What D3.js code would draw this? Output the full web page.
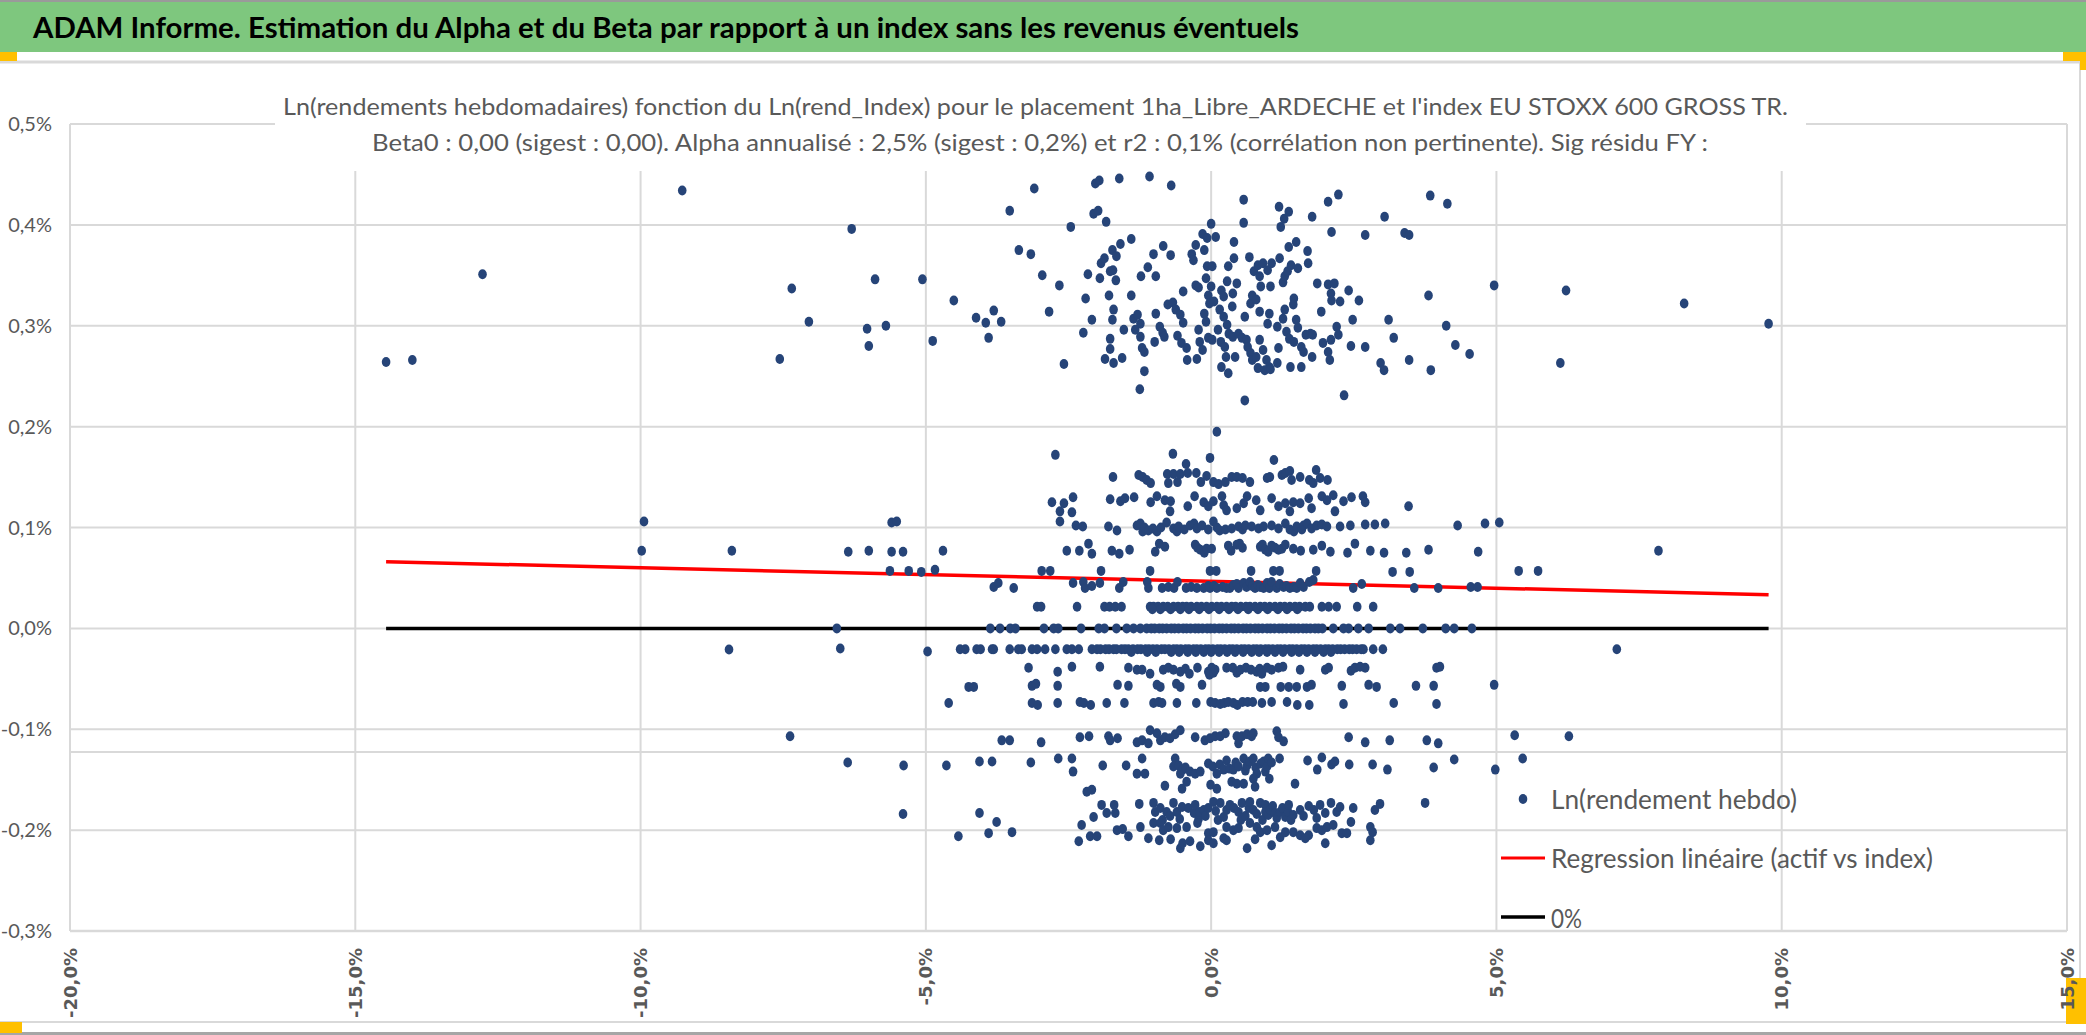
<!DOCTYPE html>
<html><head><meta charset="utf-8">
<script src="https://cdn.jsdelivr.net/npm/d3@7"></script>
<style>body{margin:0;background:#fff}svg{display:block}</style>
</head><body>
<svg id="c" width="2086" height="1035"></svg>
<script>
// ---------- texts ----------
const mainTitle = "ADAM Informe. Estimation du Alpha et du Beta par rapport à un index sans les revenus éventuels";
const chartTitle1 = "Ln(rendements hebdomadaires) fonction du Ln(rend_Index) pour le placement 1ha_Libre_ARDECHE et l'index EU STOXX 600 GROSS TR.";
const chartTitle2 = "Beta0 : 0,00 (sigest : 0,00). Alpha annualisé : 2,5% (sigest : 0,2%) et r2 : 0,1% (corrélation non pertinente). Sig résidu FY :";
const legendLabels = ["Ln(rendement hebdo)", "Regression linéaire (actif vs index)", "0%"];

// ---------- axes ----------
const xTicks = [-20, -15, -10, -5, 0, 5, 10, 15];
const xTickLabels = ["-20,0%", "-15,0%", "-10,0%", "-5,0%", "0,0%", "5,0%", "10,0%", "15,0%"];
const yTicks = [-0.3, -0.2, -0.1, 0, 0.1, 0.2, 0.3, 0.4, 0.5];
const yTickLabels = ["-0,3%", "-0,2%", "-0,1%", "0,0%", "0,1%", "0,2%", "0,3%", "0,4%", "0,5%"];

// ---------- regression (weekly %) ----------
const regAlpha = 0.0466;
const regBeta = -0.00135;

// ---------- scatter data: [index %, asset %] ----------
const upperSparse = [[-14.46,0.264],[-14.0,0.266],[-12.77,0.351],[-9.27,0.434],[-7.56,0.267],[-7.35,0.337],[-7.05,0.304],[-6.30,0.396],[-5.89,0.346],[-6.03,0.297],[-6.0,0.280],[-5.70,0.300],[6.22,0.335],[6.12,0.263],[8.29,0.322],[9.77,0.302]];

const upperCluster = [[-5.06,0.346],[-4.51,0.325],[-4.88,0.285],[-4.12,0.308],[-3.95,0.303],[-3.81,0.315],[-3.68,0.304],[-3.90,0.288],[-3.53,0.414],[-3.10,0.436],[-3.37,0.375],[-3.16,0.371],[-2.96,0.350],[-2.84,0.314],[-2.66,0.340],[-2.58,0.262],[-2.46,0.398],[-2.24,0.293],[-2.20,0.327],[-2.16,0.351],[-2.09,0.306],[-2.03,0.441],[-1.96,0.444],[-2.06,0.411],[-1.98,0.414],[-1.84,0.403],[-1.61,0.446],[-1.08,0.448],[-0.70,0.439],[-1.93,0.362],[-1.87,0.367],[-1.73,0.375],[-1.59,0.381],[-1.40,0.386],[-1.95,0.347],[-1.77,0.354],[-1.72,0.355],[-1.67,0.345],[-1.79,0.330],[-1.66,0.369],[-1.40,0.330],[-1.23,0.349],[-1.11,0.358],[-0.97,0.349],[-1.01,0.371],[-0.84,0.379],[-0.71,0.370],[-1.71,0.316],[-1.73,0.306],[-1.53,0.296],[-1.77,0.287],[-1.77,0.277],[-1.86,0.267],[-1.71,0.263],[-1.56,0.268],[-1.25,0.237],[-1.17,0.255],[-1.36,0.307],[-1.29,0.311],[-1.24,0.302],[-1.33,0.296],[-1.24,0.289],[-1.21,0.278],[-1.17,0.274],[-0.99,0.284],[-0.97,0.312],[-0.90,0.299],[-0.85,0.293],[-0.82,0.289],[-0.76,0.321],[-0.67,0.323],[-0.62,0.316],[-0.54,0.311],[-0.49,0.303],[-0.59,0.290],[-0.52,0.283],[-0.43,0.278],[-0.42,0.266],[-0.25,0.267],[-0.49,0.334],[-0.34,0.371],[-0.31,0.365],[-0.27,0.380],[-0.27,0.340],[-0.22,0.338],[-0.15,0.391],[-0.12,0.375],[-0.07,0.387],[0.00,0.401],[0.08,0.388],[-0.07,0.359],[0.02,0.359],[-0.09,0.347],[-0.05,0.330],[-0.03,0.322],[0.05,0.324],[0.00,0.339],[-0.12,0.312],[-0.09,0.304],[-0.22,0.296],[-0.20,0.284],[-0.15,0.276],[-0.05,0.288],[0.02,0.286],[0.12,0.296],[0.15,0.316],[0.18,0.335],[0.22,0.329],[0.28,0.344],[0.30,0.359],[0.40,0.383],[0.40,0.367],[0.45,0.342],[0.38,0.332],[0.37,0.319],[0.22,0.309],[0.28,0.301],[0.31,0.292],[0.17,0.284],[0.24,0.279],[0.26,0.269],[0.18,0.259],[0.30,0.253],[0.42,0.269],[0.38,0.289],[0.48,0.292],[0.54,0.288],[0.59,0.309],[0.57,0.402],[0.57,0.425],[0.67,0.368],[0.69,0.322],[0.72,0.330],[0.79,0.326],[0.62,0.286],[0.64,0.279],[0.69,0.273],[0.72,0.266],[0.79,0.269],[0.85,0.286],[0.91,0.276],[0.97,0.266],[1.02,0.259],[0.82,0.258],[0.94,0.256],[0.75,0.354],[0.82,0.360],[0.91,0.362],[0.99,0.355],[1.06,0.362],[0.85,0.349],[0.87,0.339],[0.85,0.314],[1.04,0.339],[0.99,0.302],[1.02,0.312],[1.16,0.299],[1.20,0.367],[1.22,0.398],[1.19,0.418],[1.28,0.406],[1.36,0.413],[1.26,0.343],[1.29,0.349],[1.34,0.354],[1.40,0.360],[1.36,0.378],[1.49,0.383],[1.52,0.357],[1.45,0.327],[1.44,0.321],[1.49,0.306],[1.52,0.298],[1.29,0.316],[1.26,0.307],[1.32,0.294],[1.37,0.287],[1.45,0.284],[1.58,0.279],[1.66,0.291],[1.74,0.292],[1.62,0.274],[1.39,0.259],[1.58,0.259],[1.18,0.278],[1.16,0.263],[1.04,0.257],[1.69,0.374],[1.70,0.362],[1.77,0.408],[1.86,0.342],[1.93,0.314],[2.05,0.423],[2.23,0.430],[2.11,0.393],[2.05,0.341],[2.16,0.342],[2.10,0.332],[2.11,0.325],[2.26,0.324],[2.41,0.335],[2.59,0.325],[2.20,0.299],[2.23,0.291],[2.10,0.286],[2.05,0.274],[2.08,0.266],[1.96,0.283],[1.78,0.291],[1.77,0.269],[2.33,0.231],[2.45,0.280],[2.48,0.306],[2.70,0.390],[2.70,0.279],[2.97,0.263],[3.03,0.256],[3.04,0.408],[3.11,0.306],[3.20,0.288],[3.39,0.392],[3.47,0.390],[3.47,0.266],[3.81,0.330],[3.84,0.429],[3.85,0.256],[4.12,0.300],[4.14,0.421],[4.28,0.281],[4.53,0.272],[4.96,0.340],[0.59,0.226]];

const bandTop = [[-2.73,0.172],[-0.67,0.173],[-0.02,0.169],[1.10,0.167],[-0.44,0.163],[0.10,0.195],
[-1.72,0.150],[-1.27,0.152],[-1.20,0.150],[-1.13,0.147],[-1.06,0.144],[-0.77,0.153],[-0.75,0.144],[-0.66,0.153],[-0.59,0.145],[-0.54,0.153],[-0.41,0.154],[-0.26,0.154],[-0.18,0.145],[-0.08,0.151],[0.04,0.145],[0.13,0.143],[0.25,0.145],[0.36,0.150],[0.45,0.150],[0.55,0.149],[0.68,0.145],[0.98,0.149],[1.03,0.150],[1.24,0.152],[1.30,0.154],[1.38,0.156],[1.41,0.147],[1.56,0.150],[1.72,0.147],[1.79,0.144],[1.84,0.157],[1.91,0.149],[2.04,0.147]];

const band0125 = [[-2.79,0.125],[-2.65,0.116],[-2.58,0.124],[-2.42,0.130],[-2.44,0.115],[-1.77,0.128],[-1.59,0.126],[-1.51,0.129],[-1.35,0.130],[-1.06,0.125],[-0.95,0.131],[-0.81,0.127],[-0.71,0.126],[-0.72,0.116],[-0.41,0.121],[-0.29,0.131],[-0.13,0.125],[-0.05,0.121],[0.04,0.126],[0.19,0.131],[0.22,0.122],[0.27,0.117],[0.45,0.119],[0.57,0.124],[0.63,0.131],[0.79,0.127],[0.86,0.117],[1.06,0.129],[1.18,0.121],[1.30,0.124],[1.38,0.116],[1.44,0.125],[1.56,0.124],[1.71,0.129],[1.76,0.119],[1.94,0.131],[2.03,0.127],[2.14,0.132],[2.17,0.116],[2.32,0.126],[2.46,0.130],[2.66,0.131],[2.70,0.125],[3.46,0.121]];

const band010 = [[-9.94,0.106],[-5.60,0.105],[-5.51,0.106],[-2.65,0.106],[-2.37,0.102],[-2.25,0.101],[-1.80,0.101],[-1.65,0.097],[-1.30,0.102],[-1.24,0.104],[-1.20,0.096],[-1.17,0.100],[-1.10,0.097],[-1.02,0.099],[-0.95,0.096],[-0.88,0.100],[-0.78,0.105],[-0.66,0.099],[-0.60,0.096],[-0.57,0.101],[-0.47,0.098],[-0.37,0.102],[-0.30,0.104],[-0.25,0.099],[-0.16,0.102],[-0.05,0.098],[0.04,0.106],[0.10,0.100],[0.15,0.097],[0.25,0.098],[0.36,0.099],[0.48,0.101],[0.55,0.098],[0.60,0.102],[0.71,0.101],[0.83,0.099],[0.92,0.101],[1.06,0.102],[1.18,0.099],[1.30,0.104],[1.38,0.098],[1.45,0.096],[1.50,0.101],[1.59,0.098],[1.62,0.102],[1.68,0.104],[1.76,0.099],[1.85,0.102],[1.94,0.103],[2.03,0.101],[2.26,0.101],[2.44,0.102],[2.70,0.103],[2.87,0.103],[3.05,0.104],[4.32,0.102],[4.80,0.104],[5.05,0.105]];

const band008 = [[-9.98,0.077],[-8.40,0.077],[-6.36,0.076],[-6.00,0.077],[-5.60,0.076],[-5.40,0.076],[-4.70,0.077],[-2.53,0.077],[-2.31,0.077],[-2.15,0.084],[-2.09,0.074],[-1.74,0.077],[-1.61,0.074],[-1.43,0.078],[-0.98,0.076],[-0.91,0.084],[-0.81,0.081],[-0.28,0.083],[-0.24,0.080],[-0.19,0.078],[-0.12,0.075],[-0.08,0.079],[0.01,0.079],[0.30,0.082],[0.35,0.077],[0.45,0.083],[0.50,0.084],[0.55,0.080],[0.86,0.081],[0.90,0.083],[0.95,0.078],[1.00,0.076],[1.06,0.082],[1.12,0.080],[1.18,0.078],[1.24,0.079],[1.30,0.083],[1.44,0.079],[1.57,0.077],[1.79,0.078],[1.94,0.082],[2.09,0.076],[2.39,0.075],[2.52,0.084],[2.79,0.077],[3.03,0.075],[3.42,0.075],[3.81,0.078],[4.68,0.076],[7.84,0.077]];

const band006 = [[-5.63,0.057],[-5.30,0.057],[-5.08,0.056],[-4.84,0.058],[-2.97,0.057],[-2.82,0.057],[-1.93,0.057],[-1.07,0.057],[-0.02,0.057],[0.09,0.057],[0.70,0.057],[1.09,0.057],[1.20,0.057],[1.84,0.057],[3.18,0.056],[3.48,0.056],[5.39,0.057],[5.73,0.057]];

const band004 = [[-3.81,0.041],[-3.73,0.045],[-3.46,0.040],[-2.42,0.045],[-2.24,0.046],[-2.21,0.040],[-2.09,0.042],[-1.95,0.045],[-1.61,0.040],[-1.54,0.046],[-1.12,0.046],[-1.10,0.040],[-0.86,0.040],[-0.75,0.041],[-0.65,0.040],[-0.59,0.046],[-0.44,0.040],[-0.35,0.041],[-0.25,0.040],[-0.13,0.040],[-0.05,0.042],[-0.02,0.040],[0.05,0.042],[0.10,0.040],[0.20,0.041],[0.27,0.040],[0.33,0.040],[0.39,0.043],[0.45,0.044],[0.48,0.040],[0.57,0.045],[0.62,0.041],[0.68,0.046],[0.72,0.042],[0.77,0.040],[0.82,0.043],[0.86,0.041],[0.92,0.040],[0.98,0.045],[1.02,0.040],[1.06,0.046],[1.15,0.040],[1.20,0.044],[1.27,0.041],[1.32,0.042],[1.38,0.040],[1.45,0.041],[1.50,0.040],[1.56,0.045],[1.62,0.041],[1.72,0.046],[1.79,0.048],[2.49,0.040],[2.64,0.044],[3.56,0.040],[3.98,0.040],[4.55,0.041],[4.67,0.041]];

const row002X = [-3.05,-2.98,-2.35,-1.87,-1.78,-1.68,-1.57,-1.07,-1.01,-0.93,-0.84,-0.76,-0.66,-0.58,-0.50,-0.43,-0.35,-0.25,-0.17,-0.08,0.01,0.10,0.18,0.27,0.36,0.43,0.52,0.61,0.68,0.77,0.86,0.94,1.03,1.12,1.21,1.29,1.38,1.47,1.55,1.65,1.73,1.94,2.06,2.20,2.56,2.84];
const row002bX = [-1.03,-0.89,-0.71,-0.54,-0.39,-0.21,-0.04,0.14,0.31,0.47,0.65,0.82,0.99,1.17,1.33,1.51];
const row000X = [-6.56,-3.87,-3.70,-3.52,-3.43,-2.93,-2.76,-2.68,-2.28,-1.97,-1.87,-1.66,-1.48,-1.36,-1.24,-1.13,-1.05,-0.99,-0.91,-0.85,-0.78,-0.70,-0.64,-0.57,-0.49,-0.43,-0.36,-0.28,-0.22,-0.15,-0.07,-0.01,0.06,0.14,0.20,0.27,0.35,0.41,0.48,0.56,0.62,0.69,0.77,0.83,0.90,0.98,1.04,1.11,1.19,1.25,1.32,1.40,1.46,1.53,1.61,1.67,1.74,1.82,1.88,1.95,2.14,2.32,2.41,2.58,2.76,3.14,3.31,3.71,4.11,4.26,4.57];
const rowM002X = [-4.40,-4.31,-4.11,-4.04,-3.84,-3.81,-3.53,-3.38,-3.32,-3.14,-3.05,-2.91,-2.73,-2.53,-2.44,-2.32,-2.09,-2.00,-1.94,-1.85,-1.79,-1.71,-1.66,-1.57,-1.51,-1.45,-1.37,-1.29,-1.23,-1.15,-1.09,-1.02,-0.95,-0.87,-0.81,-0.74,-0.66,-0.60,-0.53,-0.45,-0.39,-0.31,-0.25,-0.18,-0.10,-0.04,0.03,0.11,0.17,0.24,0.32,0.38,0.45,0.53,0.59,0.66,0.74,0.80,0.87,0.95,1.01,1.08,1.16,1.22,1.29,1.37,1.43,1.50,1.58,1.64,1.71,1.79,1.85,1.92,2.00,2.06,2.13,2.21,2.27,2.34,2.42,2.48,2.55,2.63,2.67,2.84,3.01,7.11];
const rowM002bX = [-1.40,-1.12,-0.97,-0.70,-0.56,-0.41,-0.27,-0.13,0.00,0.14,0.28,0.42,0.56,0.71,0.84,0.98,1.12,1.26,1.41,1.54,1.68,1.82,1.97,2.10];
const rowLevels = [0.0215, 0.019, 0.0, -0.0207, -0.0235];

const bandMid = [[-8.45,-0.021],[-6.50,-0.020],[-4.97,-0.023],
[-3.20,-0.039],[-2.69,-0.043],[-2.44,-0.038],[-1.95,-0.038],[-1.45,-0.039],[-1.30,-0.041],[-1.21,-0.041],[-1.07,-0.045],[-0.84,-0.041],[-0.75,-0.039],[-0.66,-0.041],[-0.54,-0.043],[-0.45,-0.040],[-0.38,-0.045],[-0.24,-0.039],[-0.05,-0.043],[-0.03,-0.046],[0.01,-0.039],[0.04,-0.044],[0.07,-0.041],[0.27,-0.039],[0.38,-0.039],[0.45,-0.044],[0.51,-0.041],[0.61,-0.039],[0.70,-0.041],[0.80,-0.043],[0.85,-0.040],[0.89,-0.045],[0.98,-0.039],[1.06,-0.041],[1.18,-0.039],[1.26,-0.038],[1.56,-0.041],[2.00,-0.041],[2.06,-0.039],[2.45,-0.042],[2.52,-0.039],[2.61,-0.038],[2.70,-0.039],[3.95,-0.039],[4.01,-0.038],
[-4.25,-0.058],[-4.16,-0.058],[-3.14,-0.057],[-3.07,-0.055],[-2.69,-0.057],[-1.64,-0.056],[-1.45,-0.057],[-0.95,-0.056],[-0.89,-0.058],[-0.61,-0.055],[-0.54,-0.058],[-0.16,-0.056],[0.86,-0.058],[0.95,-0.058],[1.22,-0.058],[1.36,-0.058],[1.50,-0.058],[1.68,-0.058],[1.76,-0.056],[2.29,-0.057],[2.76,-0.056],[2.90,-0.058],[3.59,-0.057],[3.90,-0.057],[4.96,-0.056],
[-4.60,-0.074],[-3.14,-0.074],[-3.04,-0.076],[-2.69,-0.074],[-2.30,-0.073],[-2.23,-0.074],[-2.11,-0.076],[-1.83,-0.074],[-1.52,-0.074],[-1.01,-0.074],[-0.92,-0.073],[-0.86,-0.074],[-0.60,-0.074],[-0.26,-0.074],[-0.01,-0.073],[0.07,-0.074],[0.16,-0.075],[0.23,-0.074],[0.30,-0.073],[0.39,-0.074],[0.46,-0.076],[0.55,-0.073],[0.64,-0.073],[0.73,-0.073],[0.89,-0.074],[1.06,-0.073],[1.33,-0.073],[1.51,-0.076],[1.72,-0.076],[2.32,-0.075],[3.20,-0.074],[3.95,-0.075]];

const bandLow = [[-7.38,-0.107],[-3.67,-0.111],[-3.53,-0.111],[-2.98,-0.113],[-2.30,-0.108],[-2.14,-0.107],[-1.80,-0.107],[-1.77,-0.111],[-1.64,-0.109],[-1.30,-0.113],[-1.21,-0.111],[-1.10,-0.114],[-1.07,-0.101],[-0.95,-0.104],[-0.89,-0.111],[-0.81,-0.108],[-0.72,-0.109],[-0.63,-0.105],[-0.54,-0.101],[-0.28,-0.108],[-0.11,-0.111],[-0.02,-0.109],[0.07,-0.107],[0.16,-0.107],[0.25,-0.104],[0.45,-0.107],[0.48,-0.114],[0.54,-0.107],[0.63,-0.105],[0.71,-0.107],[0.74,-0.104],[1.15,-0.102],[1.18,-0.108],[1.27,-0.112],[2.41,-0.108],[2.70,-0.113],[3.13,-0.111],[3.78,-0.111],[3.98,-0.114],[5.32,-0.106],[6.27,-0.107],
[-6.37,-0.133],[-5.39,-0.136],[-4.64,-0.136],[-4.06,-0.132],[-3.84,-0.132],[-3.16,-0.133],[-2.68,-0.129],[-2.44,-0.129],[-2.42,-0.142],[-1.90,-0.136],[-1.49,-0.136],[-1.21,-0.129],[-1.30,-0.144],[-1.16,-0.144],[-0.63,-0.129],[-0.66,-0.137],[-0.57,-0.136],[-0.54,-0.144],[-0.50,-0.140],[-0.45,-0.138],[-0.37,-0.142],[-0.28,-0.144],[-0.19,-0.142],[-0.05,-0.134],[0.03,-0.137],[0.10,-0.144],[0.15,-0.135],[0.22,-0.140],[0.27,-0.131],[0.32,-0.139],[0.39,-0.140],[0.43,-0.133],[0.48,-0.137],[0.57,-0.129],[0.60,-0.141],[0.63,-0.136],[0.68,-0.132],[0.74,-0.129],[0.78,-0.138],[0.80,-0.144],[0.87,-0.134],[0.92,-0.132],[0.95,-0.142],[0.98,-0.137],[1.00,-0.129],[1.06,-0.133],[1.20,-0.129],[1.69,-0.131],[1.86,-0.140],[1.94,-0.128],[2.11,-0.135],[2.17,-0.132],[2.42,-0.135],[2.83,-0.135],[3.09,-0.140],[3.90,-0.138],[4.26,-0.130],[4.98,-0.140],[5.46,-0.129],
[-2.18,-0.162],[-2.09,-0.160],[-0.81,-0.156],[-0.51,-0.159],[-0.43,-0.152],[-0.01,-0.155],[0.10,-0.159],[0.36,-0.152],[0.45,-0.154],[0.57,-0.154],[0.74,-0.149],[0.77,-0.157],[1.02,-0.149],[1.47,-0.154]];

const bandBottom = [[-5.40,-0.184],[-4.06,-0.183],[-3.76,-0.192],[-2.27,-0.195],[-2.06,-0.187],[-1.92,-0.175],[-1.83,-0.183],[-1.70,-0.175],[-1.68,-0.183],[-1.26,-0.174],[-1.01,-0.173],[-0.98,-0.182],[-0.89,-0.178],[-0.85,-0.190],[-0.78,-0.182],[-0.72,-0.186],[-0.66,-0.173],[-0.60,-0.182],[-0.55,-0.189],[-0.51,-0.177],[-0.40,-0.178],[-0.30,-0.183],[-0.28,-0.175],[-0.22,-0.189],[-0.20,-0.182],[-0.13,-0.180],[-0.10,-0.186],[-0.05,-0.178],[0.04,-0.172],[0.08,-0.181],[0.12,-0.190],[0.16,-0.173],[0.22,-0.187],[0.27,-0.180],[0.33,-0.175],[0.40,-0.178],[0.48,-0.182],[0.52,-0.190],[0.54,-0.173],[0.60,-0.186],[0.66,-0.178],[0.68,-0.172],[0.74,-0.180],[0.80,-0.184],[0.86,-0.173],[0.90,-0.190],[0.95,-0.175],[0.95,-0.182],[1.00,-0.185],[1.03,-0.180],[1.08,-0.176],[1.12,-0.183],[1.15,-0.188],[1.21,-0.182],[1.25,-0.178],[1.30,-0.187],[1.35,-0.182],[1.36,-0.175],[1.40,-0.190],[1.44,-0.185],[1.56,-0.180],[1.62,-0.186],[1.71,-0.176],[1.80,-0.180],[1.85,-0.188],[1.91,-0.175],[2.00,-0.183],[2.10,-0.173],[2.20,-0.182],[2.26,-0.177],[2.49,-0.178],[2.87,-0.180],[2.96,-0.174],[3.75,-0.173],
[-4.43,-0.206],[-3.90,-0.203],[-3.49,-0.202],[-1.65,-0.200],[-1.55,-0.199],[-1.45,-0.206],[-1.24,-0.197],[-1.01,-0.193],[-0.89,-0.193],[-0.84,-0.200],[-0.75,-0.197],[-0.60,-0.198],[-0.43,-0.197],[-0.24,-0.193],[-0.05,-0.203],[0.04,-0.202],[0.27,-0.197],[0.39,-0.200],[0.48,-0.198],[0.68,-0.193],[0.80,-0.197],[0.86,-0.202],[0.98,-0.200],[1.12,-0.197],[1.21,-0.207],[1.30,-0.202],[1.44,-0.202],[1.56,-0.205],[1.71,-0.205],[1.85,-0.198],[1.94,-0.200],[2.03,-0.197],[2.14,-0.195],[2.29,-0.203],[2.38,-0.203],[2.45,-0.192],[2.79,-0.197],[2.83,-0.202],
[-2.32,-0.211],[-2.12,-0.206],[-2.00,-0.206],[-1.10,-0.208],[-0.91,-0.210],[-0.71,-0.209],[-0.54,-0.218],[-0.50,-0.213],[-0.37,-0.211],[-0.19,-0.216],[-0.05,-0.210],[0.04,-0.213],[0.22,-0.208],[0.27,-0.210],[0.63,-0.218],[0.77,-0.209],[1.06,-0.215],[1.65,-0.208],[2.00,-0.213],[2.79,-0.210]];

// ---------- assemble ----------
const rowSets = [row002X, row002bX, row000X, rowM002X, rowM002bX];
const rowPoints = rowSets.flatMap((xs, i) => xs.map(v => [v, rowLevels[i]]));
const points = [].concat(upperSparse, upperCluster, bandTop, band0125, band010, band008, band006, band004, rowPoints, bandMid, bandLow, bandBottom);

// ---------- drawing ----------
const svg = d3.select('#c');
const W = 2086, H = 1035;
const x = d3.scaleLinear().domain([-20, 15]).range([70, 2067]);
const y = d3.scaleLinear().domain([-0.3, 0.5]).range([931, 124]);
const FONT = "Lato, 'Open Sans', sans-serif";
const GRID = '#d9d9d9', TXT = '#595959', DOT = '#264478';

function fit(sel, w) { sel.attr('textLength', w).attr('lengthAdjust', 'spacingAndGlyphs'); return sel; }

svg.append('rect').attr('width', W).attr('height', H).attr('fill', '#fff');

// header band
svg.append('rect').attr('x', 0).attr('y', 0).attr('width', W).attr('height', 52).attr('fill', '#7ec77e');
svg.append('rect').attr('x', 0).attr('y', 0).attr('width', W).attr('height', 2).attr('fill', '#9a9a9a');
fit(svg.append('text').attr('x', 33).attr('y', 38).attr('font-family', FONT).attr('font-weight', 700)
  .attr('font-size', 28).attr('fill', '#000').text(mainTitle), 1266);

// chart frame
svg.append('line').attr('x1', 0).attr('x2', 2080).attr('y1', 62).attr('y2', 62).attr('stroke', GRID).attr('stroke-width', 3);
svg.append('line').attr('x1', 2080).attr('x2', 2080).attr('y1', 62).attr('y2', 1022).attr('stroke', GRID).attr('stroke-width', 2);
svg.append('line').attr('x1', 0).attr('x2', 2080).attr('y1', 1022).attr('y2', 1022).attr('stroke', GRID).attr('stroke-width', 2);
svg.append('rect').attr('x', 0).attr('y', 1032).attr('width', W).attr('height', 3).attr('fill', '#a6a6a6');

// selection handles (yellow)
const handles = [[0, 52, 17, 9], [2063, 52, 23, 9], [2080, 52, 6, 18], [2066, 978, 20, 46], [0, 1022, 22, 11]];
svg.selectAll('rect.handle').data(handles).join('rect').attr('class', 'handle')
  .attr('x', d => d[0]).attr('y', d => d[1]).attr('width', d => d[2]).attr('height', d => d[3]).attr('fill', '#ffc000');

// gridlines
const g = svg.append('g');
g.selectAll('line.v').data(xTicks).join('line').attr('class', 'v')
  .attr('x1', d => x(d)).attr('x2', d => x(d)).attr('y1', y(0.5)).attr('y2', y(-0.3))
  .attr('stroke', GRID).attr('stroke-width', 2);
g.selectAll('line.h').data(yTicks).join('line').attr('class', 'h')
  .attr('x1', x(-20)).attr('x2', x(15)).attr('y1', d => y(d)).attr('y2', d => y(d))
  .attr('stroke', GRID).attr('stroke-width', d => d === -0.3 ? 2.5 : 2);
// stray horizontal rule visible in the reference
g.append('line').attr('x1', x(-20)).attr('x2', x(15)).attr('y1', 752).attr('y2', 752)
  .attr('stroke', GRID).attr('stroke-width', 2);

// title box (white, hides gridlines)
svg.append('rect').attr('x', 275).attr('y', 68).attr('width', 1531).attr('height', 103).attr('fill', '#fff');
fit(svg.append('text').attr('x', 283).attr('y', 115).attr('font-family', FONT).attr('font-size', 23.5)
  .attr('fill', TXT).text(chartTitle1), 1505);
fit(svg.append('text').attr('x', 372).attr('y', 151).attr('font-family', FONT).attr('font-size', 24)
  .attr('fill', TXT).text(chartTitle2), 1336);

// y tick labels
svg.selectAll('text.yl').data(yTicks).join('text').attr('class', 'yl')
  .attr('x', 52).attr('y', d => y(d) + 7).attr('text-anchor', 'end')
  .attr('font-family', FONT).attr('font-size', 20).attr('fill', TXT)
  .text((d, i) => yTickLabels[i]);

// x tick labels (rotated)
svg.selectAll('text.xl').data(xTicks).join('text').attr('class', 'xl')
  .attr('transform', d => `translate(${x(d)},948) rotate(-90)`)
  .attr('text-anchor', 'end').attr('dominant-baseline', 'central')
  .attr('font-family', "'DejaVu Sans', sans-serif").attr('font-weight', 700)
  .attr('font-size', 18).attr('fill', TXT)
  .text((d, i) => xTickLabels[i]);

// zero line and regression line
const xExt = d3.extent(points, d => d[0]);
svg.append('line').attr('x1', x(xExt[0])).attr('x2', x(xExt[1])).attr('y1', y(0)).attr('y2', y(0))
  .attr('stroke', '#000').attr('stroke-width', 3.5);
svg.append('line').attr('x1', x(xExt[0])).attr('x2', x(xExt[1]))
  .attr('y1', y(regAlpha + regBeta * xExt[0])).attr('y2', y(regAlpha + regBeta * xExt[1]))
  .attr('stroke', '#ff0000').attr('stroke-width', 3.5);

// dots
svg.append('g').selectAll('ellipse').data(points).join('ellipse')
  .attr('cx', d => x(d[0])).attr('cy', d => y(d[1])).attr('rx', 4.3).attr('ry', 5)
  .attr('fill', DOT);

// legend
const lg = svg.append('g');
lg.append('ellipse').attr('cx', 1523).attr('cy', 799).attr('rx', 4.3).attr('ry', 5).attr('fill', DOT);
lg.append('line').attr('x1', 1501).attr('x2', 1545).attr('y1', 858).attr('y2', 858).attr('stroke', '#ff0000').attr('stroke-width', 3);
lg.append('line').attr('x1', 1501).attr('x2', 1545).attr('y1', 917).attr('y2', 917).attr('stroke', '#000').attr('stroke-width', 3.5);
const legW = [246, 382, 31], legY = [809, 868, 928];
legendLabels.forEach((t, i) => {
  fit(lg.append('text').attr('x', 1551).attr('y', legY[i]).attr('font-family', FONT).attr('font-size', 27.5)
    .attr('fill', TXT).text(t), legW[i]);
});
</script>
</body></html>
